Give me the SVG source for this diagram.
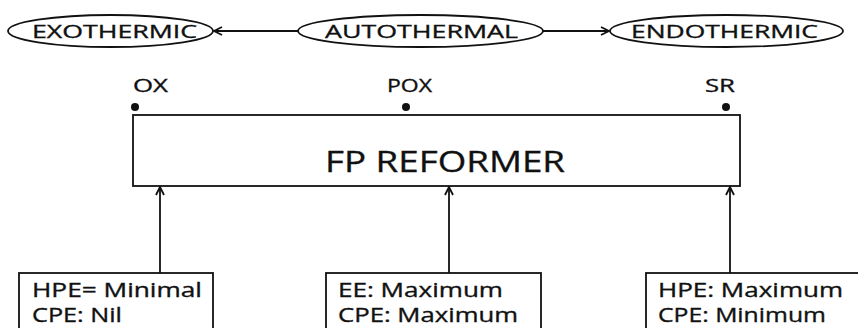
<svg xmlns="http://www.w3.org/2000/svg" width="858" height="328" viewBox="0 0 858 328">
<style>
.shape{fill:#fff;stroke:#111;stroke-width:1.8}
.line{fill:none;stroke:#111;stroke-width:1.8}
text{font-family:"Open Sans","Liberation Sans",sans-serif;fill:#111;stroke:#111;stroke-width:0.35}
.t19{font-size:19px}
.t21{font-size:20px}
.big{font-size:30px}
</style>
<defs>
<marker id="arr" viewBox="0 0 10 10" refX="9" refY="5" markerWidth="10" markerHeight="10" markerUnits="userSpaceOnUse" orient="auto">
<path d="M1,1 L9,5 L1,9" fill="none" stroke="#111" stroke-width="1.8"/>
</marker>
</defs>
<rect width="858" height="328" fill="#fff"/>
<g id="exothermic">
<ellipse class="shape" cx="110.5" cy="31" rx="102.5" ry="16"/>
<text class="t19" x="32" y="37.5" textLength="165" lengthAdjust="spacingAndGlyphs">EXOTHERMIC</text>
</g>
<g id="autothermal">
<ellipse class="shape" cx="420.5" cy="31" rx="122.5" ry="16"/>
<text class="t19" x="325" y="37.5" textLength="193" lengthAdjust="spacingAndGlyphs">AUTOTHERMAL</text>
</g>
<g id="endothermic">
<ellipse class="shape" cx="726.5" cy="31" rx="116.5" ry="16"/>
<text class="t19" x="631" y="37.5" textLength="187" lengthAdjust="spacingAndGlyphs">ENDOTHERMIC</text>
</g>
<g id="reformer">
<rect class="shape" x="133" y="115" width="607" height="71"/>
<text class="big" x="325" y="172" textLength="240" lengthAdjust="spacingAndGlyphs">FP REFORMER</text>
<circle cx="135" cy="107" r="4" fill="#111"/>
<circle cx="406" cy="107" r="4" fill="#111"/>
<circle cx="726" cy="107" r="4" fill="#111"/>
<text class="t19" x="133" y="92" textLength="35" lengthAdjust="spacingAndGlyphs">OX</text>
<text class="t19" x="387" y="92" textLength="45" lengthAdjust="spacingAndGlyphs">POX</text>
<text class="t19" x="705" y="92" textLength="30" lengthAdjust="spacingAndGlyphs">SR</text>
</g>
<g id="input-ox">
<rect class="shape" x="19" y="273" width="194" height="70"/>
<text class="t21" x="32" y="297" textLength="170" lengthAdjust="spacingAndGlyphs">HPE= Minimal</text>
<text class="t21" x="32" y="322" textLength="90" lengthAdjust="spacingAndGlyphs">CPE: Nil</text>
</g>
<g id="input-pox">
<rect class="shape" x="326" y="273" width="215" height="70"/>
<text class="t21" x="338" y="297" textLength="165" lengthAdjust="spacingAndGlyphs">EE: Maximum</text>
<text class="t21" x="338" y="322" textLength="180" lengthAdjust="spacingAndGlyphs">CPE: Maximum</text>
</g>
<g id="input-sr">
<rect class="shape" x="646" y="273" width="230" height="70"/>
<text class="t21" x="658" y="297" textLength="185" lengthAdjust="spacingAndGlyphs">HPE: Maximum</text>
<text class="t21" x="658" y="322" textLength="168" lengthAdjust="spacingAndGlyphs">CPE: Minimum</text>
</g>
<g id="connectors">
<line class="line" x1="298" y1="31" x2="214" y2="31" marker-end="url(#arr)"/>
<line class="line" x1="543" y1="31" x2="609" y2="31" marker-end="url(#arr)"/>
<line class="line" x1="160" y1="273" x2="160" y2="187" marker-end="url(#arr)"/>
<line class="line" x1="449" y1="273" x2="449" y2="187" marker-end="url(#arr)"/>
<line class="line" x1="730" y1="273" x2="730" y2="187" marker-end="url(#arr)"/>
</g>
</svg>
